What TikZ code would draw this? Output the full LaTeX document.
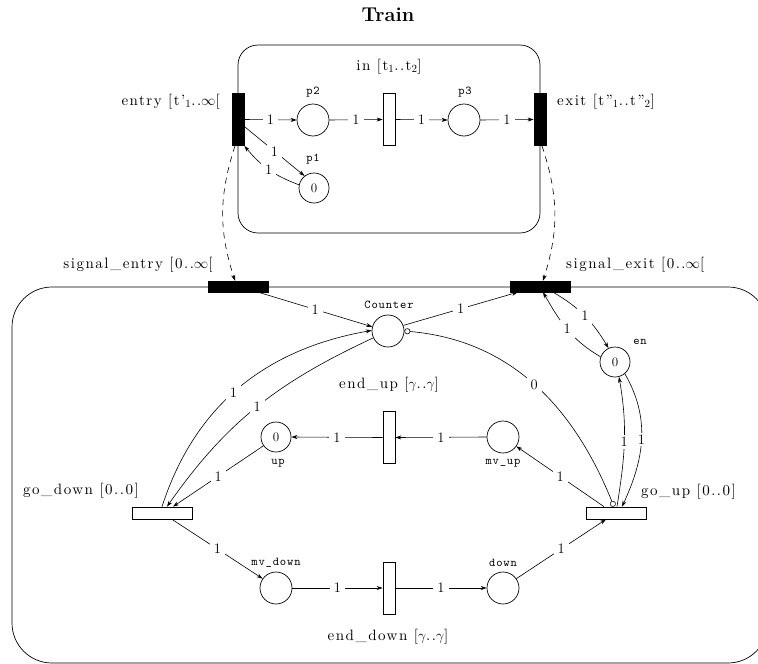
\documentclass[tikz,border=0pt]{standalone}
\usepackage{fontspec}
\newfontfamily\labfont[LetterSpace=10]{lmroman10-regular.otf}
\newfontfamily\plabfont[LetterSpace=7]{lmmono10-regular.otf}
\usetikzlibrary{arrows.meta}
\tikzset{
  place/.style={draw, circle, minimum size=32pt, inner sep=0pt, line width=0.7pt, font=\fontsize{13}{14}\selectfont},
  tokplace/.style={place, minimum size=30pt},
  vtrans/.style={draw, rectangle, minimum width=12pt, minimum height=52pt, inner sep=0pt, line width=0.7pt},
  htrans/.style={draw, rectangle, minimum width=60pt, minimum height=12pt, inner sep=0pt, line width=0.7pt},
  vbtrans/.style={vtrans, fill=black},
  hbtrans/.style={draw, rectangle, minimum width=60pt, minimum height=11pt, inner sep=0pt, fill=black},
  arc/.style={line width=0.6pt, -{Stealth[length=6pt, width=4pt]}},
  inhib/.style={line width=0.6pt, {Circle[open, length=6pt, width=6pt, fill=white]}-{Circle[open, length=6pt, width=6pt, fill=white]}},
  dasharc/.style={arc, dash pattern=on 6pt off 5pt},
  w/.style={fill=white, inner sep=4pt, font=\fontsize{14.5}{16}\selectfont},
  lab/.style={inner sep=0pt, font=\labfont\fontsize{15}{17}\selectfont},
  plab/.style={inner sep=0pt, font=\plabfont\fontsize{12}{13}\selectfont},
  box/.style={draw, line width=0.7pt}
}
\begin{document}
\begin{tikzpicture}[x=1pt, y=1pt]
\path[use as bounding box, clip] (0,0) rectangle (758,-664);

% title
\node[inner sep=0pt, font=\bfseries\fontsize{20}{24}\selectfont] (title) at (388,-15) {Train};

% boxes
\draw[box, rounded corners=20pt] (238,-45) rectangle (540,-233);
\draw[box, rounded corners=40pt] (12,-287) rectangle (768,-663);

% top net
\node[vbtrans] (entry) at (238,-119.5) {};
\node[vbtrans] (exit) at (540,-119.5) {};
\node[vtrans] (in) at (389,-119.5) {};
\node[place] (p2) at (313,-120) {};
\node[place] (p3) at (464,-120) {};
\node[tokplace] (p1) at (314,-188) {0};

\node[plab] (p2l) at (313,-92) {p2};
\node[plab] (p3l) at (465,-92) {p3};
\node[plab] (p1l) at (313,-159) {p1};
\node[lab] (inl) at (389,-67) {in [t$_1$..t$_2$]};
\node[lab, anchor=east] (entryl) at (220,-102) {entry [t’$_1$..$\infty$[};
\node[lab, anchor=west] (exitl) at (557,-102) {exit [t”$_1$..t”$_2$]};

\draw[arc] (entry.east) -- node[w]{1} (p2.west);
\draw[arc] (p2.east) -- node[w]{1} (in.west);
\draw[arc] (in.east) -- node[w]{1} (p3.west);
\draw[arc] (p3.east) -- node[w]{1} (exit.west);
\draw[arc] ([yshift=-7pt]entry.east) -- node[w, pos=0.5]{1} (p1.128);
\draw[arc] (p1.168) to[bend left=15] node[w]{1} (entry.south east);

% bottom net
\node[hbtrans] (sentry) at (238,-286.5) {};
\node[hbtrans] (sexit) at (540,-286.5) {};
\node[place] (counter) at (388,-331) {};
\node[tokplace] (en) at (615,-362) {0};
\node[htrans] (godown) at (162,-513) {};
\node[htrans] (goup) at (616,-513) {};
\node[tokplace] (up) at (276,-437) {0};
\node[place] (mvup) at (503,-437) {};
\node[vtrans] (endup) at (389,-437.5) {};
\node[place] (mvdown) at (276,-588) {};
\node[vtrans] (enddown) at (389,-588) {};
\node[place] (down) at (503,-588) {};

\node[lab] (sentryl) at (138,-265) {signal\_entry [0..$\infty$[};
\node[lab, anchor=west] (sexitl) at (566,-265) {signal\_exit [0..$\infty$[};
\node[plab] (counterl) at (389,-305) {Counter};
\node[plab] (enl) at (640,-342) {en};
\node[lab] (endupl) at (389,-385) {end\_up [$\gamma$..$\gamma$]};
\node[lab] (enddownl) at (388,-637) {end\_down [$\gamma$..$\gamma$]};
\node[lab] (godownl) at (81,-491) {go\_down [0..0]};
\node[lab, anchor=west] (goupl) at (641,-492) {go\_up [0..0]};
\node[plab] (upl) at (278,-463) {up};
\node[plab] (mvupl) at (503,-463) {mv\_up};
\node[plab] (mvdownl) at (276,-563) {mv\_down};
\node[plab] (downl) at (503,-563) {down};

% dashed synchronisation arcs
\draw[dasharc] ([xshift=-3pt]entry.south) to[bend right=18] ([xshift=-3pt]sentry.north);
\draw[dasharc] ([xshift=2pt]exit.south) to[bend left=18] ([xshift=3pt]sexit.north);

% counter arcs
\draw[arc] ([xshift=-10pt]sentry.south east) -- node[w]{1} (counter.165);
\draw[arc] (counter.20) -- node[w]{1} ([xshift=8pt]sexit.south west);
\draw[arc] (godown.north) to[out=72, in=190] node[w, pos=0.47]{1} (counter.178);
\draw[arc] (counter.205) to[out=205, in=55] node[w, pos=0.5]{1} ([xshift=5pt]godown.north);
\draw[inhib] (counter.east) to[out=-5, in=112] node[w]{0} ([xshift=-2pt]goup.north);

% go_down / go_up
\draw[arc] (up.215) -- node[w]{1} ([xshift=11pt]godown.north);
\draw[arc] ([xshift=10pt]godown.south) -- node[w]{1} (mvdown.145);
\draw[arc] (mvdown.east) -- node[w]{1} (enddown.west);
\draw[arc] (enddown.east) -- node[w]{1} (down.west);
\draw[arc] (down.35) -- node[w]{1} ([xshift=-10pt]goup.south);
\draw[arc] ([xshift=-12pt]goup.north) -- node[w]{1} (mvup.-35);
\draw[arc] (mvup.west) -- node[w]{1} (endup.east);
\draw[arc] (endup.west) -- node[w]{1} (up.east);

% en arcs
\draw[arc] ([xshift=1pt]goup.north) to[out=81, in=-80] node[w, inner sep=2pt]{1} (en.-75);
\draw[arc] (en.-50) to[out=-60, in=65] node[w, inner sep=2pt]{1} ([xshift=6pt]goup.north);
\draw[arc] (en.160) to[out=150, in=-60] node[w]{1} ([xshift=3pt]sexit.south);
\draw[arc] ([xshift=13pt]sexit.south) to[out=-30, in=121] node[w]{1} (en.115);
\end{tikzpicture}
\end{document}
